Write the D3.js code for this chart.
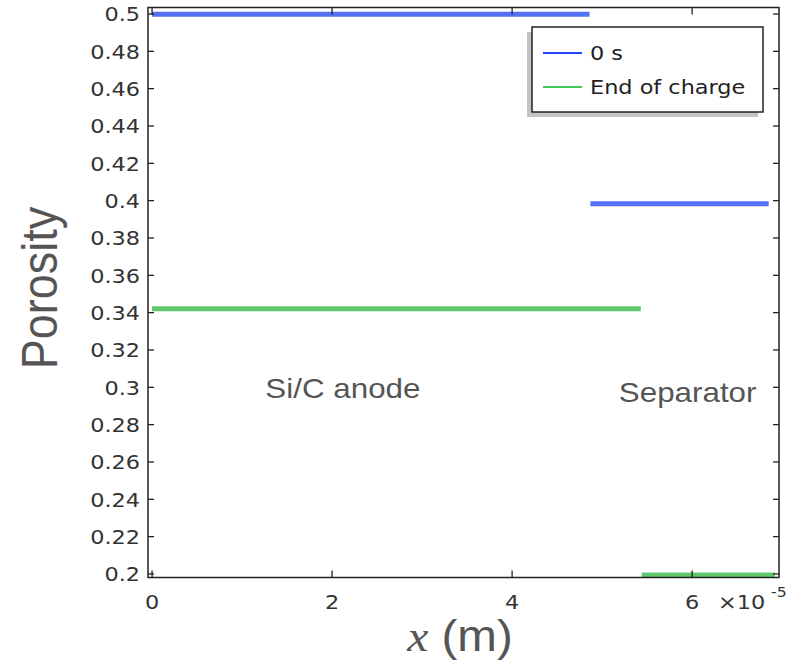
<!DOCTYPE html>
<html><head><meta charset="utf-8">
<script src="https://cdn.jsdelivr.net/npm/d3@7"></script>
<style>body{margin:0;background:#fff}svg{display:block}</style>
</head><body>
<svg id="c" width="788" height="665"></svg>
<script>
// Data (x in metres, porosity dimensionless)
const seriesNames = ["0 s", "End of charge"];
const seriesColors = ["#2e52f0", "#3dbb4c"];
const legendColors = ["#1f45ff", "#45c95a"];
// 0 s: anode segment and separator segment
const blueX1 = [0, 4.86e-5], blueY1 = [0.4998, 0.4998];
const blueX2 = [4.87e-5, 6.85e-5], blueY2 = [0.3983, 0.3983];
// End of charge: anode segment and separator segment
const greenX1 = [0, 5.43e-5], greenY1 = [0.3421, 0.3421];
const greenX2 = [5.44e-5, 6.92e-5], greenY2 = [0.1995, 0.1995];
const xTicks = [0, 2e-5, 4e-5, 6e-5];
const xTickLabels = ["0", "2", "4", "6"];
const yTicks = [0.2,0.22,0.24,0.26,0.28,0.3,0.32,0.34,0.36,0.38,0.4,0.42,0.44,0.46,0.48,0.5];
const yTickLabels = ["0.2","0.22","0.24","0.26","0.28","0.3","0.32","0.34","0.36","0.38","0.4","0.42","0.44","0.46","0.48","0.5"];
const regionLabels = ["Si/C anode", "Separator"];
const regionX = [2.12e-5, 5.95e-5];
const regionY = [0.2942, 0.2921];

const svg = d3.select("#c");
const L = 148, R = 779, T = 7.5, B = 577.5;
const x = d3.scaleLinear().domain([-0.045e-5, 6.965e-5]).range([L, R]);
const y = d3.scaleLinear().domain([0.1981, 0.50348]).range([B, T]);
const SX = 1.12;

function stext(g, px, py, str, opts) {
  const t = g.append("text")
    .attr("transform", `translate(${px},${py}) scale(${opts.sx||SX},1)` + (opts.rot ? ` rotate(${opts.rot})` : ""))
    .attr("font-family", opts.family || "DejaVu Sans")
    .attr("font-size", opts.size)
    .attr("fill", opts.fill || "#333")
    .attr("text-anchor", opts.anchor || "start")
    .text(str);
  if (opts.style) t.attr("font-style", opts.style);
  return t;
}

// data lines
const line = d3.line().x(d => x(d[0])).y(d => y(d[1]));
const segs = [
  {xs: blueX1, ys: blueY1, c: seriesColors[0]},
  {xs: blueX2, ys: blueY2, c: seriesColors[0]},
  {xs: greenX1, ys: greenY1, c: seriesColors[1]},
  {xs: greenX2, ys: greenY2, c: seriesColors[1]},
];
segs.forEach(s => {
  const pts = s.xs.map((v, i) => [v, s.ys[i]]);
  svg.append("path").attr("d", line(pts)).attr("fill", "none")
    .attr("stroke", s.c).attr("stroke-width", 5).attr("stroke-opacity", 0.82);
});

// frame
svg.append("rect").attr("x", L).attr("y", T).attr("width", R - L).attr("height", B - T)
  .attr("fill", "none").attr("stroke", "#222").attr("stroke-width", 1.5);

// ticks
const tg = svg.append("g").attr("stroke", "#222").attr("stroke-width", 1.3);
yTicks.forEach(v => {
  tg.append("line").attr("x1", L).attr("x2", L + 6).attr("y1", y(v)).attr("y2", y(v));
  tg.append("line").attr("x1", R).attr("x2", R - 6).attr("y1", y(v)).attr("y2", y(v));
});
xTicks.forEach(v => {
  tg.append("line").attr("x1", x(v)).attr("x2", x(v)).attr("y1", B).attr("y2", B - 7);
  tg.append("line").attr("x1", x(v)).attr("x2", x(v)).attr("y1", T).attr("y2", T + 7);
});

// tick labels
yTicks.forEach((v, i) => {
  stext(svg, 140, y(v) + 7.3, yTickLabels[i], {size: 20, anchor: "end"});
});
xTicks.forEach((v, i) => {
  stext(svg, x(v), 609, xTickLabels[i], {size: 20, anchor: "middle"});
});
stext(svg, 718, 609, "×10", {size: 20});
stext(svg, 771, 597, "-5", {size: 14});

// region labels
regionLabels.forEach((s, i) => {
  stext(svg, x(regionX[i]), y(regionY[i]), s, {size: 28, family: "Liberation Sans", anchor: "middle", fill: "#555"});
});

// axis titles
const xt = svg.append("text")
  .attr("transform", `translate(460,651) scale(1.08,1)`)
  .attr("text-anchor", "middle").attr("fill", "#555").attr("font-size", 44);
xt.append("tspan").attr("font-family", "Liberation Serif").attr("font-style", "italic").text("x");
xt.append("tspan").attr("font-family", "Liberation Sans").text(" (m)");
stext(svg, 57, 288, "Porosity", {size: 45, family: "Liberation Sans", anchor: "middle", fill: "#555", rot: -90});

// legend
const lg = svg.append("g");
lg.append("rect").attr("x", 527).attr("y", 32).attr("width", 231).attr("height", 85).attr("fill", "#c4c4c4");
lg.append("rect").attr("x", 532).attr("y", 27).attr("width", 231).attr("height", 85)
  .attr("fill", "#fff").attr("stroke", "#222").attr("stroke-width", 1.5);
seriesNames.forEach((n, i) => {
  const yy = 53 + i * 34;
  lg.append("line").attr("x1", 543).attr("x2", 582).attr("y1", yy).attr("y2", yy)
    .attr("stroke", legendColors[i]).attr("stroke-width", 1.8);
  stext(lg, 590, yy + 7.3, n, {size: 20, fill: "#222"});
});
</script>
</body></html>
